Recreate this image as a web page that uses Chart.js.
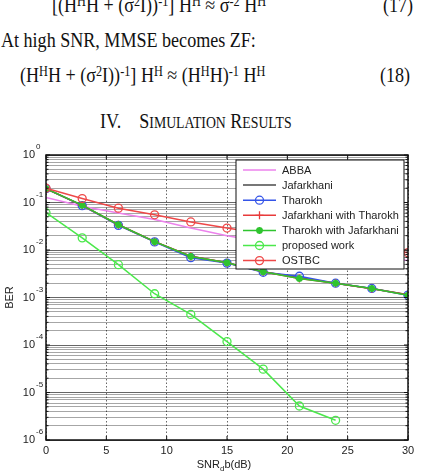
<!DOCTYPE html>
<html>
<head>
<meta charset="utf-8">
<script src="https://cdn.jsdelivr.net/npm/chart.js@4.4.1/dist/chart.umd.min.js"></script>
<style>
  html, body { margin: 0; padding: 0; background: #fff; }
  #page { position: relative; width: 421px; height: 475px; overflow: hidden; background: #fff; }
  .tx { position: absolute; font-family: "Liberation Serif", "Times New Roman", serif; font-size: 21px; line-height: 20px;
        color: #111; white-space: pre; transform-origin: 0 0; transform: scaleX(0.86); }
  .tx sup { font-size: 0.68em; line-height: 0; vertical-align: 0.42em; }
  .sc { font-size: 16px; }
  #chart { position: absolute; left: 0; top: 140px; }
</style>
</head>
<body>
<div id="page">
  <div class="tx" style="left:52px; top:-5px;">[(H<sup>H</sup>H + (σ<sup>2</sup>I))<sup>-1</sup>] H<sup>H</sup> ≈ σ<sup>-2</sup> H<sup>H</sup></div>
  <div class="tx" style="left:383px; top:-5px;">(17)</div>
  <div class="tx" style="left:1px; top:30px;">At high SNR, MMSE becomes ZF:</div>
  <div class="tx" style="left:20px; top:65px;">(H<sup>H</sup>H + (σ<sup>2</sup>I))<sup>-1</sup>] H<sup>H</sup> ≈ (H<sup>H</sup>H)<sup>-1</sup> H<sup>H</sup></div>
  <div class="tx" style="left:380px; top:65px;">(18)</div>
  <div class="tx" style="left:100px; top:111px;">IV.    S<span class="sc">IMULATION</span> R<span class="sc">ESULTS</span></div>
  <canvas id="chart" width="421" height="335"></canvas>
</div>
<script>
// SNR points (dB)
const snr = [0, 3, 6, 9, 12, 15, 18, 21, 24, 27, 30];

// BER
const abba = [0.128, 0.083, 0.06, 0.044, 0.029, 0.020, 0.015, 0.0115, 0.009, 0.0072, 0.006];
const jafarkhani = [0.195, 0.087, 0.034, 0.015, 0.0074, 0.0054, 0.0035, 0.0026, 0.002, 0.00155, 0.00114];
const tharokh = [0.195, 0.086, 0.033, 0.0148, 0.0069, 0.0053, 0.0034, 0.0028, 0.002, 0.00155, 0.00112];
const jafWithTha = [0.195, 0.087, 0.034, 0.015, 0.0074, 0.0054, 0.0035, 0.0025, 0.002, 0.00152, 0.00114];
const thaWithJaf = [0.195, 0.088, 0.034, 0.015, 0.0073, 0.0054, 0.0035, 0.0025, 0.002, 0.00155, 0.00112];
const proposed = [0.061, 0.018, 0.0049, 0.0012, 0.00044, 0.000118, 0.000031, 0.0000052, 0.0000026];
const ostbc = [0.2, 0.121, 0.076, 0.055, 0.039, 0.029, 0.022, 0.017, 0.0135, 0.011, 0.0088];

const xTicks = [0, 5, 10, 15, 20, 25, 30];
const yDecades = [-6, -5, -4, -3, -2, -1, 0];
const yTickLabels = ['10', '10', '10', '10', '10', '10', '10'];
const yTickExps = ['-6', '-5', '-4', '-3', '-2', '-1', '0'];

const toPts = vals => vals.map((v, i) => ({ x: snr[i], y: v }));

function series(label, vals, color, style, order) {
  return {
    label: label,
    data: toPts(vals),
    borderColor: color,
    backgroundColor: 'rgba(0,0,0,0)',
    borderWidth: 1.5,
    pointStyle: style || 'circle',
    pointRadius: style ? 4 : 0,
    pointBorderColor: color,
    pointBorderWidth: 1.3,
    tension: 0,
    order: order
  };
}

const datasets = [
  series('ABBA', abba, '#ec82ec', null, 7),
  series('Jafarkhani', jafarkhani, '#4a4a4a', null, 6),
  series('Tharokh', tharokh, '#3454e8', 'circle', 5),
  series('Jafarkhani with Tharokh', jafWithTha, '#e83a3a', 'cross', 4),
  series('Tharokh with Jafarkhani', thaWithJaf, '#2fc42f', 'star', 3),
  series('proposed work', proposed, '#4be84b', 'circle', 2),
  series('OSTBC', ostbc, '#ee4848', 'circle', 1)
];
datasets[4].pointBorderWidth = 2.2;
datasets[4].pointRadius = 3.5;

const SANS = '"Liberation Sans", Arial, sans-serif';

function drawMarker(ctx, style, x, y, r) {
  ctx.beginPath();
  if (style === 'circle') {
    ctx.arc(x, y, r, 0, Math.PI * 2);
  } else if (style === 'cross') {
    ctx.moveTo(x - r, y); ctx.lineTo(x + r, y);
    ctx.moveTo(x, y - r); ctx.lineTo(x, y + r);
  } else if (style === 'star') {
    ctx.moveTo(x - r, y); ctx.lineTo(x + r, y);
    ctx.moveTo(x, y - r); ctx.lineTo(x, y + r);
    const d = r * 0.7;
    ctx.moveTo(x - d, y - d); ctx.lineTo(x + d, y + d);
    ctx.moveTo(x - d, y + d); ctx.lineTo(x + d, y - d);
  }
  ctx.stroke();
}

const decorations = {
  id: 'decorations',
  afterDraw(chart) {
    const ctx = chart.ctx;
    const a = chart.chartArea;
    const xs = chart.scales.x, ys = chart.scales.y;
    ctx.save();

    // tick marks inside the box
    ctx.strokeStyle = '#111';
    ctx.lineWidth = 1;
    xTicks.forEach(t => {
      const px = xs.getPixelForValue(t);
      ctx.beginPath();
      ctx.moveTo(px, a.bottom); ctx.lineTo(px, a.bottom - 4);
      ctx.moveTo(px, a.top); ctx.lineTo(px, a.top + 4);
      ctx.stroke();
    });
    ys.ticks.forEach(t => {
      const py = ys.getPixelForValue(t.value);
      const len = isDecade(t.value) ? 4 : 2.5;
      ctx.beginPath();
      ctx.moveTo(a.right, py); ctx.lineTo(a.right - len, py);
      ctx.moveTo(a.left, py); ctx.lineTo(a.left + len, py);
      ctx.stroke();
    });

    // box
    ctx.lineWidth = 1.5;
    ctx.strokeRect(a.left, a.top, a.right - a.left, a.bottom - a.top);

    // y tick labels 10^n
    ctx.fillStyle = '#222';
    yDecades.forEach((e, i) => {
      const py = ys.getPixelForValue(Math.pow(10, e));
      ctx.font = '11px ' + SANS;
      ctx.textAlign = 'right';
      ctx.textBaseline = 'middle';
      ctx.fillText(yTickLabels[i], 35, py);
      ctx.font = '8px ' + SANS;
      ctx.textAlign = 'left';
      ctx.fillText(yTickExps[i], 36, py - 8);
    });

    // axis titles
    ctx.font = '11px ' + SANS;
    ctx.textBaseline = 'middle';
    ctx.save();
    ctx.translate(10, (a.top + a.bottom) / 2);
    ctx.rotate(-Math.PI / 2);
    ctx.textAlign = 'center';
    ctx.fillText('BER', 0, 0);
    ctx.restore();

    const p1 = 'SNR', p2 = 'd', p3 = 'b(dB)';
    ctx.font = '11px ' + SANS;
    const w1 = ctx.measureText(p1).width, w3 = ctx.measureText(p3).width;
    ctx.font = '8px ' + SANS;
    const w2 = ctx.measureText(p2).width;
    let tx = (a.left + a.right) / 2 - (w1 + w2 + w3) / 2 - 3;
    const ty = a.bottom + 25;
    ctx.textAlign = 'left';
    ctx.font = '11px ' + SANS;
    ctx.fillText(p1, tx, ty); tx += w1;
    ctx.font = '8px ' + SANS;
    ctx.fillText(p2, tx, ty + 4); tx += w2;
    ctx.font = '11px ' + SANS;
    ctx.fillText(p3, tx, ty);

    // legend box
    const bx = a.right - 172, by = a.top + 5, bw = 168, bh = 109;
    ctx.fillStyle = '#fff';
    ctx.fillRect(bx, by, bw, bh);
    ctx.strokeStyle = '#111';
    ctx.lineWidth = 1;
    ctx.strokeRect(bx, by, bw, bh);
    chart.data.datasets.forEach((ds, i) => {
      const ly = by + 10 + i * 15.1;
      ctx.strokeStyle = ds.borderColor;
      ctx.lineWidth = 1.5;
      ctx.beginPath();
      ctx.moveTo(bx + 7, ly); ctx.lineTo(bx + 40, ly);
      ctx.stroke();
      if (ds.pointRadius > 0) {
        ctx.lineWidth = ds.pointBorderWidth;
        drawMarker(ctx, ds.pointStyle, bx + 23.5, ly, ds.pointRadius);
      }
      ctx.fillStyle = '#222';
      ctx.font = '11px ' + SANS;
      ctx.textAlign = 'left';
      ctx.textBaseline = 'middle';
      ctx.fillText(ds.label, bx + 46, ly + 0.5, bw - 49);
    });
    ctx.restore();
  }
};

const isDecade = v => Math.abs(Math.log10(v) - Math.round(Math.log10(v))) < 1e-6;

new Chart(document.getElementById('chart'), {
  type: 'line',
  data: { datasets: datasets },
  options: {
    responsive: false,
    animation: false,
    layout: { padding: { top: 15, right: 13, left: 0, bottom: 0 } },
    plugins: { legend: { display: false }, tooltip: { enabled: false } },
    scales: {
      x: {
        type: 'linear',
        min: 0,
        max: 30,
        afterBuildTicks: scale => { scale.ticks = xTicks.map(v => ({ value: v })); },
        afterFit: scale => { scale.height = 35; },
        ticks: { font: { size: 11, family: SANS }, color: '#222', padding: 4, maxRotation: 0 },
        grid: { color: '#666', lineWidth: 1, drawTicks: false },
        border: { display: false, dash: [1.5, 2] }
      },
      y: {
        type: 'logarithmic',
        min: 1e-6,
        max: 1,
        afterBuildTicks: scale => {
          const t = [];
          yDecades.forEach(e => {
            if (e === 0) { t.push({ value: 1 }); return; }
            for (let m = 1; m <= 9; m++) t.push({ value: m * Math.pow(10, e) });
          });
          scale.ticks = t;
        },
        afterFit: scale => { scale.width = 46; },
        ticks: { autoSkip: false, callback: () => '' },
        grid: {
          drawTicks: false,
          lineWidth: 1,
          color: ctx => isDecade(ctx.tick.value) ? 'rgba(0,0,0,0.6)' : 'rgba(0,0,0,0.35)'
        },
        border: { display: false }
      }
    }
  },
  plugins: [decorations]
});
</script>
</body>
</html>
